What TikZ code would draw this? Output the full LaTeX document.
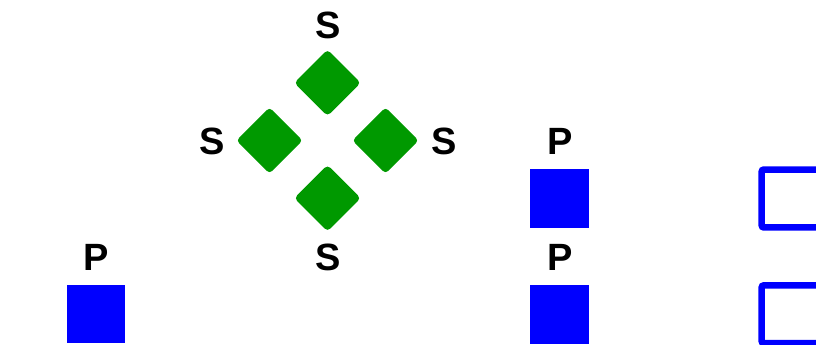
\documentclass[tikz,border=0pt]{standalone}
\usepackage{fontspec}
\setmainfont{Liberation Sans}
\begin{document}
\begin{tikzpicture}[x=1pt,y=-1pt,
  lbl/.style={inner sep=0pt,font=\fontsize{38}{40}\selectfont\bfseries},
  gem/.style={fill=gemgreen,draw=none,minimum size=47pt,rounded corners=4pt,rotate=45,inner sep=0pt},
  sq/.style={fill=blue,draw=none,minimum size=58.5pt,inner sep=0pt},
  osq/.style={draw=blue,line width=6.5pt,rounded corners=2pt}]
\definecolor{gemgreen}{RGB}{0,153,0}
\useasboundingbox (0,0) rectangle (816,345);
% green diamonds
\node[gem] (gt) at (327.5,82.8) {};
\node[gem] (gl) at (269.5,140.5) {};
\node[gem] (gr) at (385.5,140.5) {};
\node[gem] (gb) at (327.5,198.2) {};
\node[lbl] (st) at (328,25) {S};
\node[lbl] (sl) at (212.5,141.5) {S};
\node[lbl] (sr) at (444,141.5) {S};
\node[lbl] (sb) at (328,257) {S};
% blue squares
\node[sq] (b1) at (96,314.2) {};
\node[sq] (b2) at (559.5,198.5) {};
\node[sq] (b3) at (559.5,314.3) {};
\node[lbl] (p1) at (96,257) {P};
\node[lbl] (p2) at (560,141) {P};
\node[lbl] (p3) at (560,257) {P};
% outlined squares (cut off at right edge)
\begin{scope}
\clip (0,0) rectangle (816,345);
\draw[osq] (761.7,169.6) rectangle (819.7,227.4);
\draw[osq] (761.7,285.4) rectangle (819.7,343.2);
\end{scope}
\end{tikzpicture}
\end{document}
